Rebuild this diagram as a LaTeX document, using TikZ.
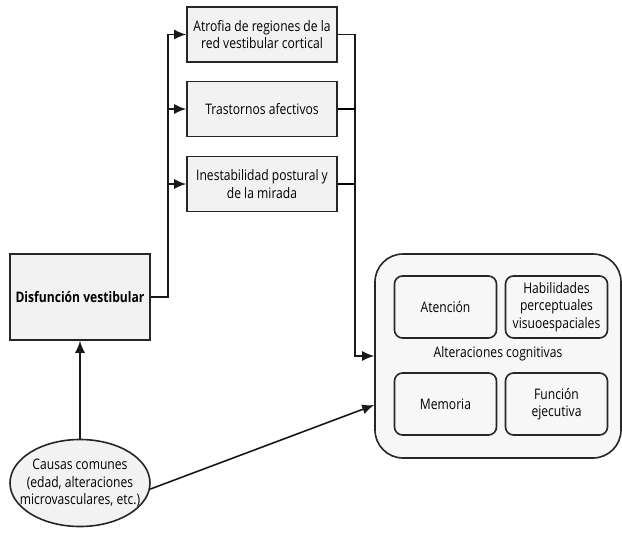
\documentclass[tikz,border=0pt]{standalone}
\usepackage{fontspec}
\setmainfont{Open Sans}[FakeStretch=0.835]
\usetikzlibrary{shapes.geometric, arrows.meta}

\begin{document}
\begin{tikzpicture}[x=1pt, y=-1pt, font=\fontsize{14.5}{17.5}\selectfont,
  line width=1.6pt,
  box/.style={draw=black!85, fill=black!5, align=center, inner sep=1pt},
  rbox/.style={draw=black!85, rounded corners=8pt, align=center, inner sep=1pt,
               minimum width=102pt, minimum height=62pt},
  arr/.style={-{Latex[length=12pt, width=10pt]}, black!90}]

\useasboundingbox (0,0) rectangle (622,544);

% effects of the dysfunction
\node[box, minimum width=150pt, minimum height=55pt] (atrofia)   at (262,34.5) {Atrofia de regiones de la\\red vestibular cortical};
\node[box, minimum width=150pt, minimum height=55pt] (afectivos) at (262,109)  {Trastornos afectivos};
\node[box, minimum width=150pt, minimum height=55pt] (mirada)    at (262,184)  {Inestabilidad postural y\\de la mirada};

% dysfunction and common causes
\node[box, minimum width=140pt, minimum height=86pt, font=\fontsize{14.5}{17.5}\selectfont\bfseries] (disf) at (80,297) {Disfunci\'on vestibular};
\node[ellipse, draw=black!85, fill=black!5, align=center, inner xsep=-16pt, inner ysep=0pt,
      minimum width=140pt, minimum height=87pt] (causas) at (80,483) {Causas comunes\\(edad, alteraciones\\microvasculares, etc.)};

% cognitive alterations
\node[draw=black!85, fill=black!3, rounded corners=28pt, minimum width=246pt, minimum height=204pt] (cog) at (498,356) {};
\node[rbox] (atencion)    at (445.5,307) {Atenci\'on};
\node[rbox] (habilidades) at (556.5,307) {Habilidades\\perceptuales\\visuoespaciales};
\node[rbox] (memoria)     at (445.5,404) {Memoria};
\node[rbox] (funcion)     at (556.5,404) {Funci\'on\\ejecutiva};
\node (altcog) at (498,354) {Alteraciones cognitivas};

% left bus
\coordinate (lbus) at ([xshift=-18pt]atrofia.west);
\draw[arr] (disf.east) -| (lbus) -- (atrofia.west);
\draw[arr] (afectivos.west -| lbus) -- (afectivos.west);
\draw[arr] (mirada.west -| lbus) -- (mirada.west);

% right bus
\coordinate (rbus) at ([xshift=-19pt]cog.west);
\draw[arr] (atrofia.east) -| (rbus) -- (cog.west);
\draw (afectivos.east) -- (afectivos.east -| rbus);
\draw (mirada.east) -- (mirada.east -| rbus);

% causes
\coordinate (cogin) at ([yshift=-49pt]cog.west);
\draw[arr] (causas.north) -- (disf.south);
\draw[arr] (causas.-5) -- (cogin);

\end{tikzpicture}
\end{document}
